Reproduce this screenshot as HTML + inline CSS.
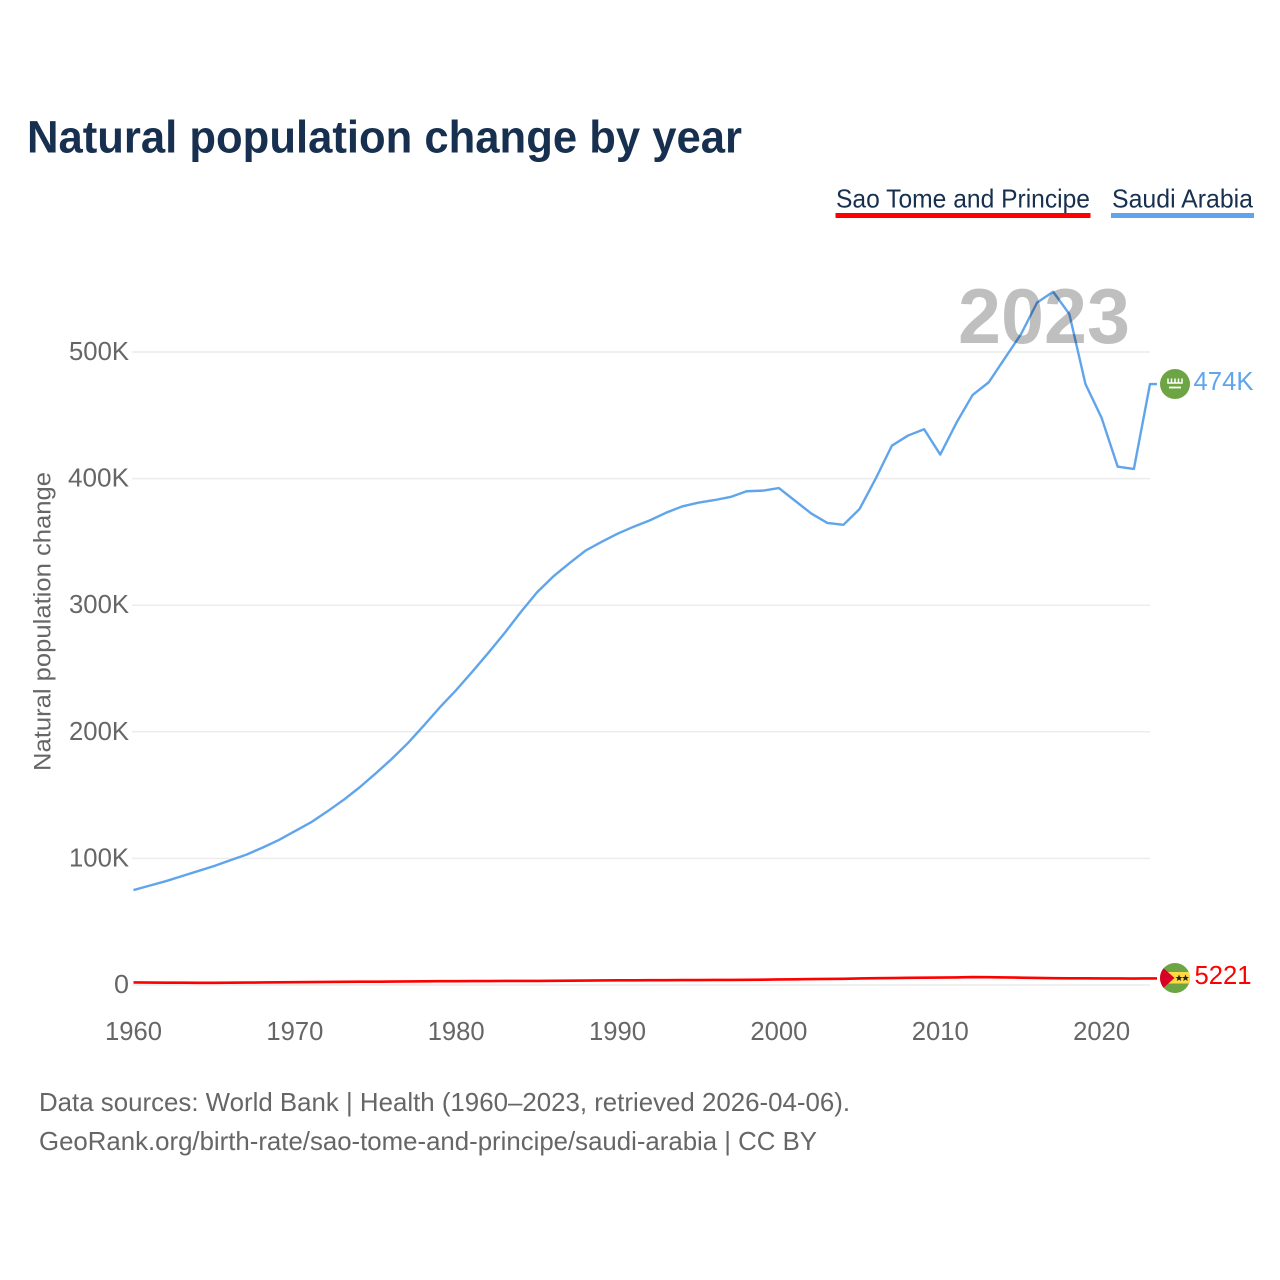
<!DOCTYPE html>
<html lang="en">
<head>
<meta charset="utf-8">
<title>Natural population change by year</title>
<style>
html,body{margin:0;padding:0;background:#fff;width:1280px;height:1280px;overflow:hidden}
svg{display:block}
text{font-family:"Liberation Sans",sans-serif}
</style>
</head>
<body>
<svg id="chart" xmlns="http://www.w3.org/2000/svg" width="1280" height="1280" viewBox="0 0 1280 1280">
  <rect width="1280" height="1280" fill="#fff"/>
  <text x="27" y="152.5" font-size="45" font-weight="700" fill="#17304f" textLength="715" lengthAdjust="spacingAndGlyphs">Natural population change by year</text>

  <g>
    <g>
      <text x="836" y="207.5" font-size="26" fill="#17304f" textLength="254" lengthAdjust="spacingAndGlyphs">Sao Tome and Principe</text>
      <rect x="835.5" y="213" width="255" height="5" fill="#ff0000"/>
    </g>
    <g>
      <text x="1112" y="207.5" font-size="26" fill="#17304f" textLength="141" lengthAdjust="spacingAndGlyphs">Saudi Arabia</text>
      <rect x="1111" y="213" width="143" height="5" fill="#60a5ec"/>
    </g>
  </g>

  <text transform="translate(50.5,771) rotate(-90)" font-size="24" fill="#666" textLength="299" lengthAdjust="spacingAndGlyphs">Natural population change</text>

  <g id="grid"></g>
  <g id="yticks"></g>
  <g id="xticks"></g>
  <g id="series"></g>

  <text x="1130" y="343" text-anchor="end" font-size="78" font-weight="700" fill="#000" fill-opacity="0.25" textLength="172" lengthAdjust="spacingAndGlyphs">2023</text>

  <g>
    <circle cx="1175" cy="384" r="15" fill="#6da544"/>
    <path d="M1168 378.5v4.5h14v-4.5M1171.5 378.5v4.5M1175 378.5v4.5M1178.5 378.5v4.5" fill="none" stroke="#fff" stroke-width="1.5"/>
    <path d="M1169 387.5h12" stroke="#fff" stroke-width="1.8"/>
  </g>
  <g>
    <clipPath id="stp-clip"><circle cx="1175" cy="978" r="15"/></clipPath>
    <g clip-path="url(#stp-clip)">
      <rect x="1160" y="963" width="30" height="30" fill="#6da544"/>
      <rect x="1160" y="972" width="30" height="11.5" fill="#ffda44"/>
      <polygon points="1160,965 1174.5,978 1160,991" fill="#d80027"/>
      <polygon points="1179,974.5 1180,977 1182.5,977 1180.5,978.6 1181.3,981 1179,979.6 1176.7,981 1177.5,978.6 1175.5,977 1178,977" fill="#222"/>
      <polygon points="1185.5,974.5 1186.5,977 1189,977 1187,978.6 1187.8,981 1185.5,979.6 1183.2,981 1184,978.6 1182,977 1184.5,977" fill="#222"/>
    </g>
  </g>
  <text id="end-saudi" x="1193.5" y="390" font-size="26" fill="#60a5ec" textLength="60" lengthAdjust="spacingAndGlyphs"></text>
  <text id="end-stp" x="1194.5" y="984" font-size="26" fill="#ff0000" textLength="57" lengthAdjust="spacingAndGlyphs"></text>

  <g>
    <text x="39" y="1111" font-size="26" fill="#666" textLength="811" lengthAdjust="spacingAndGlyphs">Data sources: World Bank | Health (1960–2023, retrieved 2026-04-06).</text>
    <text x="39" y="1150" font-size="26" fill="#666" textLength="778" lengthAdjust="spacingAndGlyphs">GeoRank.org/birth-rate/sao-tome-and-principe/saudi-arabia | CC BY</text>
  </g>
</svg>
<script>
const years = [1960,1961,1962,1963,1964,1965,1966,1967,1968,1969,1970,1971,1972,1973,1974,1975,1976,1977,1978,1979,1980,1981,1982,1983,1984,1985,1986,1987,1988,1989,1990,1991,1992,1993,1994,1995,1996,1997,1998,1999,2000,2001,2002,2003,2004,2005,2006,2007,2008,2009,2010,2011,2012,2013,2014,2015,2016,2017,2018,2019,2020,2021,2022,2023];
const saudiArabia = [75000,78500,82000,86000,90000,94000,98500,103000,108500,114500,121500,128500,137000,146000,156000,167000,178500,191000,205000,219500,233000,247500,262500,278000,294500,310000,322500,333000,343000,350000,356500,362000,367000,373000,378000,381000,383000,385500,390000,390500,392500,382500,372500,365000,363500,376000,400000,426000,434000,439000,419000,444000,466000,476000,495000,514000,539000,547600,530000,474700,448000,409400,407600,474700];
const saoTome = [2000,1900,1800,1800,1700,1700,1800,1900,2000,2100,2200,2300,2400,2500,2600,2600,2700,2800,2900,3000,3000,3100,3100,3200,3200,3200,3300,3400,3500,3600,3700,3700,3800,3800,3900,3900,4000,4000,4100,4200,4400,4500,4700,4800,4900,5200,5400,5500,5700,5800,5900,6000,6300,6200,6000,5800,5600,5400,5300,5300,5200,5200,5100,5221];
const yTicks = [0,100000,200000,300000,400000,500000];
const yTickLabels = ["0","100K","200K","300K","400K","500K"];
const yLabelWidths = [15,60,60,60,61,60];
const xTicks = [1960,1970,1980,1990,2000,2010,2020];
const xTickLabels = ["1960","1970","1980","1990","2000","2010","2020"];
const saudiEndLabel = "474K";
const saoTomeEndLabel = "5221";

const SVGNS = "http://www.w3.org/2000/svg";
function xScale(year){ return 133.5 + (year - 1960) * (1150 - 133.5) / 63; }
function yScale(v){ return 985 - v * (985 - 352) / 500000; }
function make(tag, parent){
  const el = document.createElementNS(SVGNS, tag);
  parent.appendChild(el);
  return el;
}

const gridG = document.getElementById("grid");
const yG = document.getElementById("yticks");
yTicks.forEach(function(t, i){
  const line = make("line", gridG);
  
  
  line.setAttribute("x1", 132);
  line.setAttribute("x2", 1150);
  line.setAttribute("y1", yScale(t));
  line.setAttribute("y2", yScale(t));
  line.setAttribute("stroke", "#ececec");
  line.setAttribute("stroke-width", 1.5);
  const label = make("text", yG);
  
  
  label.setAttribute("x", 129);
  label.setAttribute("y", yScale(t) + 8);
  label.setAttribute("text-anchor", "end");
  label.setAttribute("font-size", 26);
  label.setAttribute("fill", "#666");
  label.setAttribute("textLength", yLabelWidths[i]);
  label.setAttribute("lengthAdjust", "spacingAndGlyphs");
  label.textContent = yTickLabels[i];
});

const xG = document.getElementById("xticks");
xTicks.forEach(function(t, i){
  const label = make("text", xG);
  
  
  label.setAttribute("x", xScale(t));
  label.setAttribute("y", 1040);
  label.setAttribute("text-anchor", "middle");
  label.setAttribute("font-size", 26);
  label.setAttribute("fill", "#666");
  label.setAttribute("textLength", 57);
  label.setAttribute("lengthAdjust", "spacingAndGlyphs");
  label.textContent = xTickLabels[i];
});

function linePath(values){
  let d = values.map(function(v, i){
    return (i ? "L" : "M") + xScale(years[i]).toFixed(2) + " " + yScale(v).toFixed(2);
  }).join("");
  d += "L1157 " + yScale(values[values.length - 1]).toFixed(2);
  return d;
}
const seriesG = document.getElementById("series");

const saudiLine = make("path", seriesG);


saudiLine.setAttribute("d", linePath(saudiArabia));
saudiLine.setAttribute("fill", "none");
saudiLine.setAttribute("stroke", "#60a5ec");
saudiLine.setAttribute("stroke-width", 2.4);
saudiLine.setAttribute("stroke-linejoin", "round");

const stpLine = make("path", seriesG);


stpLine.setAttribute("d", linePath(saoTome));
stpLine.setAttribute("fill", "none");
stpLine.setAttribute("stroke", "#ff0000");
stpLine.setAttribute("stroke-width", 2.6);
stpLine.setAttribute("stroke-linejoin", "round");

document.getElementById("end-saudi").textContent = saudiEndLabel;
document.getElementById("end-stp").textContent = saoTomeEndLabel;
</script>
</body>
</html>
